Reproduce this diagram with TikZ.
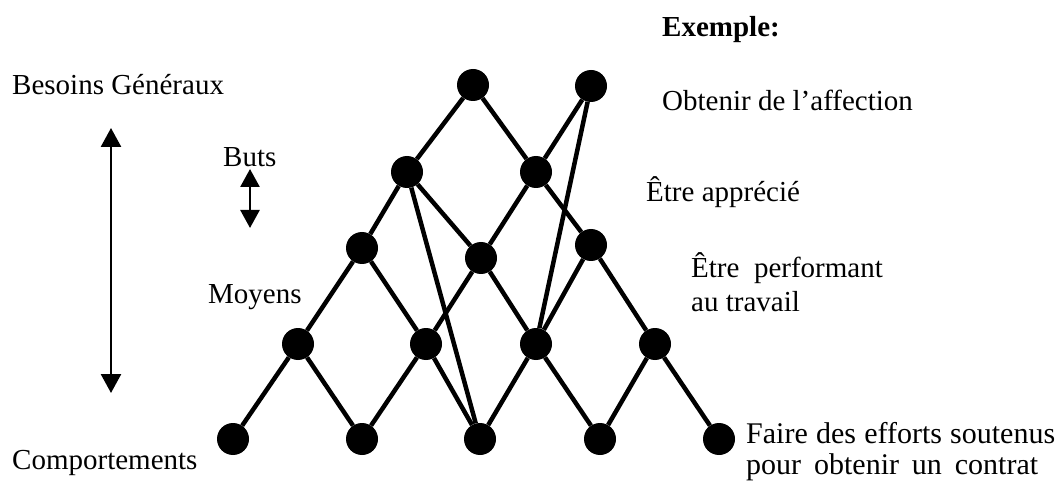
\documentclass[tikz,border=0pt]{standalone}
\usepackage{fontspec}
\setmainfont{Liberation Serif}
\usetikzlibrary{arrows.meta}
\begin{document}
\begin{tikzpicture}[x=1pt,y=-1pt,
  dot/.style={circle,fill=black,inner sep=0pt,minimum size=32pt},
  edge/.style={line width=4.5pt},
  lbl/.style={anchor=base west,inner sep=0pt,font=\fontsize{29}{34}\selectfont},
  bigarrow/.style={line width=2.6pt,{Triangle[width=20pt,length=19pt]}-{Triangle[width=20pt,length=19pt]}},
  smallarrow/.style={line width=2.6pt,{Triangle[width=19pt,length=18pt]}-{Triangle[width=19pt,length=18pt]}}
]
\useasboundingbox (0,0) rectangle (1058,481);
% nodes
\node[dot] (t1) at (473,85) {};
\node[dot] (t2) at (591,86) {};
\node[dot] (b1) at (407,172) {};
\node[dot] (b2) at (536,172) {};
\node[dot] (m1) at (362,248) {};
\node[dot] (m2) at (481,258) {};
\node[dot] (m3) at (591,245) {};
\node[dot] (n1) at (298,344) {};
\node[dot] (n2) at (426,344) {};
\node[dot] (n3) at (536,344) {};
\node[dot] (n4) at (655,344) {};
\node[dot] (c1) at (233,439) {};
\node[dot] (c2) at (362,439) {};
\node[dot] (c3) at (480,439) {};
\node[dot] (c4) at (600,439) {};
\node[dot] (c5) at (719,439) {};
% edges
\draw[edge] (t1) -- (b1);
\draw[edge] (t1) -- (b2);
\draw[edge] (t2) -- (b2);
\draw[edge] (t2) -- (n3);
\draw[edge] (b1) -- (m1);
\draw[edge] (b1) -- (m2);
\draw[edge] (b1) -- (c3);
\draw[edge] (b2) -- (m2);
\draw[edge] (b2) -- (m3);
\draw[edge] (m1) -- (n1);
\draw[edge] (m1) -- (n2);
\draw[edge] (m2) -- (n2);
\draw[edge] (m2) -- (n3);
\draw[edge] (m3) -- (n3);
\draw[edge] (m3) -- (n4);
\draw[edge] (n1) -- (c1);
\draw[edge] (n1) -- (c2);
\draw[edge] (n2) -- (c2);
\draw[edge] (n2) -- (c3);
\draw[edge] (n3) -- (c3);
\draw[edge] (n3) -- (c4);
\draw[edge] (n4) -- (c4);
\draw[edge] (n4) -- (c5);
% arrows
\coordinate (bigtop) at (111,128);
\coordinate (bigbot) at (111,393);
\draw[bigarrow] (bigtop) -- (bigbot);
\coordinate (buttop) at (250,169);
\coordinate (butbot) at (250,228);
\draw[smallarrow] (buttop) -- (butbot);
% labels
\node[lbl] (besoins) at (12,95) {Besoins Généraux};
\node[lbl] (buts) at (223,167) {Buts};
\node[lbl] (moyens) at (208,304) {Moyens};
\node[lbl] (comport) at (12,469) {Comportements};
\node[lbl,font=\fontsize{29}{34}\selectfont\bfseries] (exemple) at (662,37) {Exemple:};
\node[lbl] (ex1) at (662,111) {Obtenir de l’affection};
\node[lbl] (ex2) at (646,202) {Être apprécié};
\node[lbl] (ex3) at (691,278) {Être~ performant};
\node[lbl] (ex3b) at (691,312) {au travail};
\node[lbl,font=\fontsize{30}{34}\selectfont] (ex4) at (746,443) {\makebox[309pt][s]{Faire des efforts soutenus}};
\node[lbl,font=\fontsize{30}{34}\selectfont] (ex4b) at (746,474) {\makebox[292pt][s]{pour obtenir un contrat}};
\end{tikzpicture}
\end{document}
